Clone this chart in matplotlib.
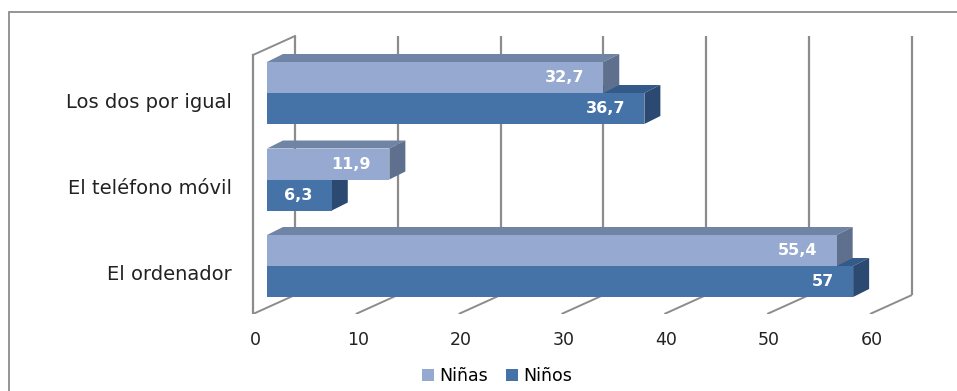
import matplotlib
matplotlib.use("Agg")
import matplotlib.pyplot as plt
from matplotlib.patches import Polygon, Rectangle, Patch
from matplotlib.transforms import ScaledTranslation
import numpy as np

categories = ["Los dos por igual", "El teléfono móvil", "El ordenador"]
ninas = [32.7, 11.9, 55.4]
ninos = [36.7, 6.3, 57.0]
ninas_labels = ["32,7", "11,9", "55,4"]
ninos_labels = ["36,7", "6,3", "57"]
xticks = [0, 10, 20, 30, 40, 50, 60]
series_names = ["Niñas", "Niños"]

W, H = 957, 391
DPI = 100
fig = plt.figure(figsize=(W / DPI, H / DPI), dpi=DPI)
plt.rcParams['font.family'] = ['DejaVu Sans']

# axes placement in pixels
L, R, T, B = 240, 950, 20, 314
ax = fig.add_axes([L / W, 1 - B / H, (R - L) / W, (B - T) / H])
pxu = 10.283  # px per value unit
x0px = 267
ax.set_xlim((L - x0px) / pxu, (R - x0px) / pxu)
cy0, cstep = 93, 86.5
ax.set_ylim((B - cy0) / cstep, (T - cy0) / cstep)
for s in ax.spines.values():
    s.set_visible(False)

ypx = 1 / cstep  # y units per px
grid_c = "#8c8c8c"
# wall geometry
wdx, wdy = 42 / pxu, -19 * ypx      # front floor -> back wall offset
front_shift = -14 / pxu             # front floor x relative to bar front
y_floor = (B - cy0) / cstep
y_top_front = (55 - cy0) / cstep
for v in xticks:
    xf = v + front_shift
    xb = xf + wdx
    ax.plot([xf, xb], [y_floor, y_floor + wdy], color=grid_c, lw=1.4, zorder=1, solid_capstyle="butt")
    ax.plot([xb, xb], [y_floor + wdy, y_top_front + wdy], color=grid_c, lw=1.6, zorder=1, solid_capstyle="butt")
# left wall
xf0 = xticks[0] + front_shift
ax.plot([xf0, xf0], [y_floor, y_top_front], color=grid_c, lw=1.6, zorder=1)
ax.plot([xf0, xf0 + wdx], [y_top_front, y_top_front + wdy], color=grid_c, lw=1.4, zorder=1)

# bars
bh = 31 * ypx
ddx, ddy = 16 / pxu, -8 * ypx
pos = np.arange(len(categories))
c_front = ["#95A9D1", "#4572A7"]
c_top = ["#7084A5", "#345A8A"]
c_side = ["#5F708E", "#2C4A71"]

def faces(x1, ytop, ybot, k, z):
    top = Polygon([(0, ytop), (x1, ytop), (x1 + ddx, ytop + ddy), (ddx, ytop + ddy)],
                  closed=True, facecolor=c_top[k], edgecolor="none", zorder=z)
    side = Polygon([(x1, ytop), (x1 + ddx, ytop + ddy), (x1 + ddx, ybot + ddy), (x1, ybot)],
                   closed=True, facecolor=c_side[k], edgecolor="none", zorder=z)
    ax.add_patch(top)
    ax.add_patch(side)

for i in pos:
    faces(ninos[i], pos[i], pos[i] + bh, 1, 2)
    faces(ninas[i], pos[i] - bh, pos[i], 0, 3)
ax.barh(pos - bh / 2, ninas, height=bh, color=c_front[0], zorder=3)
ax.barh(pos + bh / 2, ninos, height=bh, color=c_front[1], zorder=4)

lab_off = ScaledTranslation(-19 / DPI, 0, fig.dpi_scale_trans)
for i in pos:
    ax.text(ninas[i], pos[i] - bh / 2, ninas_labels[i], ha="right", va="center",
            color="white", fontsize=11.5, fontweight="bold", zorder=6,
            transform=ax.transData + lab_off)
    ax.text(ninos[i], pos[i] + bh / 2, ninos_labels[i], ha="right", va="center",
            color="white", fontsize=11.5, fontweight="bold", zorder=6,
            transform=ax.transData + lab_off)

# ticks
ax.set_xticks(xticks)
ax.set_xticklabels([str(v) for v in xticks], fontsize=12.5, color="#222222")
ax.tick_params(axis="x", length=0, pad=12)
tick_off = ScaledTranslation(-12 / DPI, 0, fig.dpi_scale_trans)
for lbl in ax.get_xticklabels():
    lbl.set_transform(lbl.get_transform() + tick_off)
ax.set_yticks(pos)
ax.set_yticklabels(categories, fontsize=14, color="#222222")
ax.tick_params(axis="y", length=0, pad=6)
ytick_off = ScaledTranslation(0, -7 / DPI, fig.dpi_scale_trans)
for lbl in ax.get_yticklabels():
    lbl.set_transform(lbl.get_transform() + ytick_off)

# legend
handles = [Patch(facecolor=c_front[0], edgecolor="none"), Patch(facecolor=c_front[1], edgecolor="none")]
fig.legend(handles, series_names, loc="center", bbox_to_anchor=(497 / W, 1 - 376 / H),
           ncol=2, frameon=False, fontsize=12.5, handlelength=0.7, handleheight=0.7,
           handletextpad=0.3, columnspacing=1.0)

# outer frame
fig.patches.append(Rectangle((9 / W, -0.1), 1.2, 1 - 12 / H + 0.1, transform=fig.transFigure,
                             fill=False, edgecolor="#8c8c8c", lw=1.3))

fig.savefig("out.png", dpi=DPI)
